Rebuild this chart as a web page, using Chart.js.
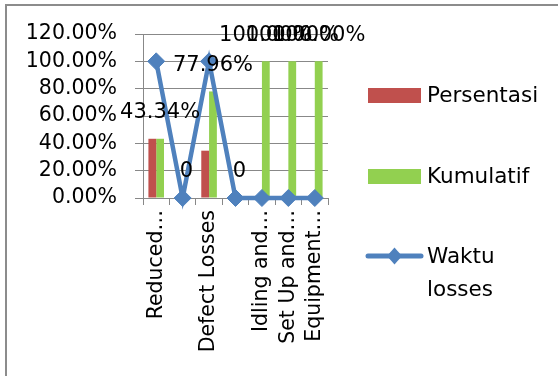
<!DOCTYPE html>
<html><head><meta charset="utf-8">
<script src="https://cdn.jsdelivr.net/npm/chart.js@4.4.0/dist/chart.umd.min.js"></script>
<style>
html,body{margin:0;padding:0;background:#fff;overflow:hidden}
canvas{display:block}
</style></head><body>
<canvas id="c" width="558" height="376"></canvas>
<script>
const categories = ["Reduced…", "", "Defect Losses", "", "Idling and…", "Set Up and…", "Equipment…"];
const persentasi = [43.34, 0, 34.62, 0, 0, 0, 0];
const kumulatif = [43.34, 0, 77.96, 0, 100, 100, 100];
const waktuLosses = [100, 0, 100, 0, 0, 0, 0];
const yTickValues = [0, 20, 40, 60, 80, 100, 120];
const seriesNames = ["Persentasi", "Kumulatif", "Waktu losses"];
const colors = ["#C0504D", "#92D050", "#4F81BD"];

const FONT = "DejaVu Sans";
const gridColor = "#888888";

const framePlugin = {
  id: "frame",
  beforeDraw(chart) {
    const ctx = chart.ctx;
    ctx.save();
    ctx.strokeStyle = "#8c8c8c";
    ctx.lineWidth = 2;
    ctx.beginPath();
    ctx.moveTo(6, 380);
    ctx.lineTo(6, 5);
    ctx.lineTo(560, 5);
    ctx.stroke();
    ctx.restore();
  }
};

const labelPlugin = {
  id: "kumLabels",
  afterDatasetsDraw(chart) {
    const ctx = chart.ctx;
    const meta = chart.getDatasetMeta(1);
    ctx.save();
    ctx.font = "21px '" + FONT + "'";
    ctx.fillStyle = "#000";
    ctx.textAlign = "center";
    ctx.textBaseline = "middle";
    meta.data.forEach((el, i) => {
      const v = kumulatif[i];
      const t = v === 0 ? "0" : v.toFixed(2) + "%";
      ctx.fillText(t, el.x, el.y - 26);
    });
    ctx.restore();
  }
};

const legendPlugin = {
  id: "customLegend",
  afterDraw(chart) {
    const ctx = chart.ctx;
    ctx.save();
    ctx.font = "21.5px '" + FONT + "'";
    ctx.textAlign = "left";
    ctx.textBaseline = "middle";
    ctx.fillStyle = colors[0];
    ctx.fillRect(368, 88, 53, 15);
    ctx.fillStyle = "#000";
    ctx.fillText(seriesNames[0], 427, 96);
    ctx.fillStyle = colors[1];
    ctx.fillRect(368, 169, 53, 15);
    ctx.fillStyle = "#000";
    ctx.fillText(seriesNames[1], 427, 177);
    ctx.strokeStyle = colors[2];
    ctx.lineWidth = 5;
    ctx.lineCap = "round";
    ctx.beginPath();
    ctx.moveTo(368, 256);
    ctx.lineTo(421, 256);
    ctx.stroke();
    ctx.fillStyle = colors[2];
    ctx.beginPath();
    ctx.moveTo(394.5, 247.5);
    ctx.lineTo(402, 256);
    ctx.lineTo(394.5, 264.5);
    ctx.lineTo(387, 256);
    ctx.closePath();
    ctx.fill();
    ctx.fillStyle = "#000";
    const parts = seriesNames[2].split(" ");
    ctx.fillText(parts[0], 427, 257);
    ctx.fillText(parts[1], 427, 290);
    ctx.restore();
  }
};

new Chart(document.getElementById("c"), {
  data: {
    labels: categories,
    datasets: [
      { type: "bar", label: seriesNames[0], data: persentasi, backgroundColor: colors[0], barPercentage: 1, categoryPercentage: 0.59, order: 1 },
      { type: "bar", label: seriesNames[1], data: kumulatif, backgroundColor: colors[1], barPercentage: 1, categoryPercentage: 0.59, order: 1 },
      { type: "line", label: seriesNames[2], data: waktuLosses, borderColor: colors[2], backgroundColor: colors[2],
        borderWidth: 4.5, tension: 0, pointStyle: "rectRot", pointRadius: 8.5, pointBackgroundColor: colors[2],
        pointBorderColor: colors[2], pointBorderWidth: 1, clip: false, order: 0 }
    ]
  },
  options: {
    responsive: false,
    animation: false,
    devicePixelRatio: 1,
    layout: { padding: { left: 0, top: 34, right: 230, bottom: 0 } },
    plugins: { legend: { display: false }, tooltip: { enabled: false } },
    scales: {
      x: {
        offset: true,
        grid: { offset: true, drawOnChartArea: false, tickLength: 7, color: gridColor },
        border: { color: gridColor },
        ticks: { autoSkip: false, maxRotation: 90, minRotation: 90, padding: 5, color: "#000", font: { family: FONT, size: 20.5 } },
        afterFit(s) { s.height = 178; }
      },
      y: {
        min: 0, max: 120,
        afterBuildTicks(s) { s.ticks = yTickValues.map(v => ({ value: v })); },
        grid: { color: gridColor, tickLength: 8 },
        border: { color: gridColor },
        ticks: { autoSkip: false, padding: 18, color: "#000", font: { family: FONT, size: 20.5 }, callback: v => Number(v).toFixed(2) + "%" },
        afterFit(s) { s.width = 143; }
      }
    }
  },
  plugins: [framePlugin, labelPlugin, legendPlugin]
});
</script>
</body></html>
